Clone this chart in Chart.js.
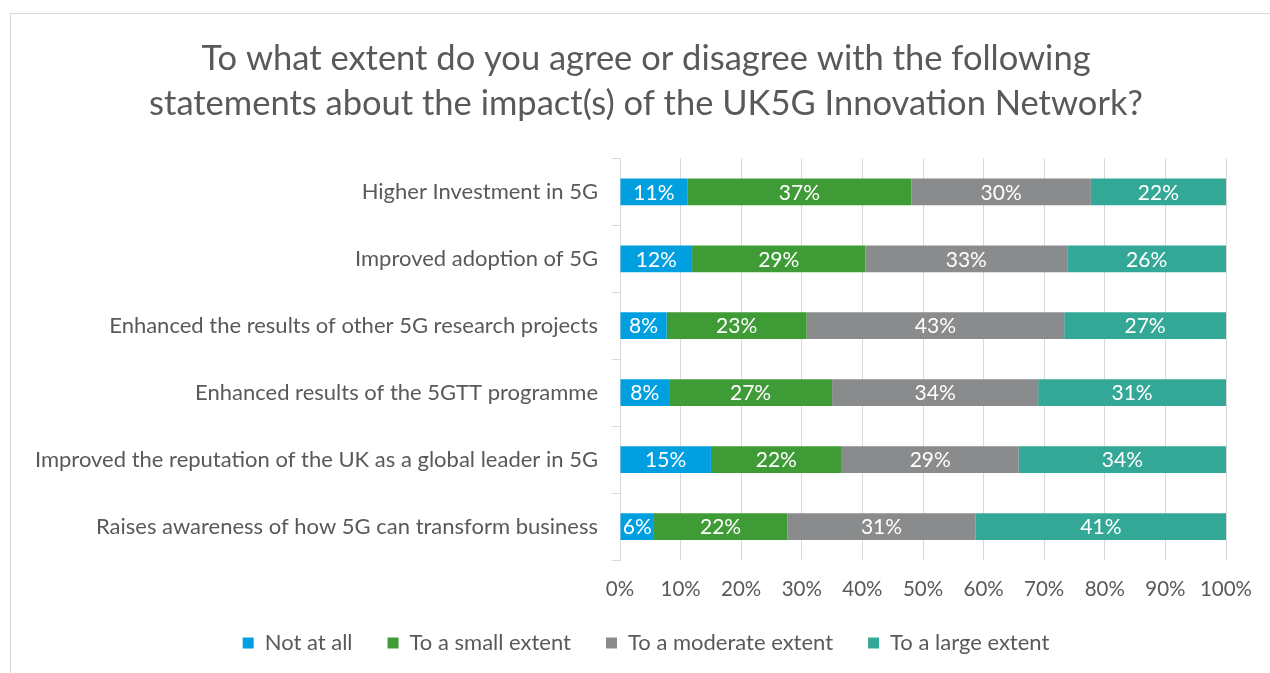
<!DOCTYPE html>
<html>
<head>
<meta charset="utf-8">
<script src="https://cdn.jsdelivr.net/npm/chart.js@4"></script>
<style>
  html, body { margin: 0; padding: 0; background: #fff; overflow: hidden; }
  #wrap { position: relative; width: 1270px; height: 673px; }
  #frame { position: absolute; left: 10px; top: 13px; width: 1300px; height: 700px; border: 1px solid #d9d9d9; box-sizing: border-box; }
  canvas { position: absolute; left: 0; top: 0; }
</style>
</head>
<body>
<div id="wrap">
  <div id="frame"></div>
  <canvas id="chart" width="1270" height="673"></canvas>
</div>
<script>
const categories = [
    'Higher Investment in 5G',
    'Improved adoption of 5G',
    'Enhanced the results of other 5G research projects',
    'Enhanced results of the 5GTT programme',
    'Improved the reputation of the UK as a global leader in 5G',
    'Raises awareness of how 5G can transform business'
];
const seriesNames = ['Not at all', 'To a small extent', 'To a moderate extent', 'To a large extent'];
const notAtAll = [11.1, 11.9, 7.7, 8.1, 15.0, 5.6];
const smallExtent = [37.0, 28.6, 23.1, 26.9, 21.6, 22.0];
const moderateExtent = [29.6, 33.3, 42.5, 34.0, 29.2, 31.1];
const largeExtent = [22.3, 26.2, 26.7, 31.0, 34.2, 41.3];
const xTicks = [0, 10, 20, 30, 40, 50, 60, 70, 80, 90, 100];

const colors = ['#00a0e0', '#3f9b35', '#898b8d', '#34a896'];
const textGrey = '#595959';
const fontFamily = 'Lato, "Open Sans", sans-serif';

// white percentage labels in the middle of each segment
const barLabels = {
    id: 'barLabels',
    afterDatasetsDraw(chart) {
        const ctx = chart.ctx;
        ctx.save();
        ctx.fillStyle = '#ffffff';
        ctx.font = '21px ' + fontFamily;
        ctx.textAlign = 'center';
        ctx.textBaseline = 'middle';
        chart.data.datasets.forEach((ds, i) => {
            chart.getDatasetMeta(i).data.forEach((bar, j) => {
                const cx = (bar.x + bar.base) / 2;
                ctx.fillText(Math.round(ds.data[j]) + '%', cx, bar.y + 1);
            });
        });
        ctx.restore();
    }
};

// title and legend sit a bit right of the canvas centre, like the original
const shiftBlocks = {
    id: 'shiftBlocks',
    afterLayout(chart) {
        if (chart.titleBlock) chart.titleBlock.left += 66;
        if (chart.legend) chart.legend.left += 66;
    }
};

const ctx = document.getElementById('chart').getContext('2d');
new Chart(ctx, {
    type: 'bar',
    data: {
        labels: categories,
        datasets: [notAtAll, smallExtent, moderateExtent, largeExtent].map((d, i) => ({
            label: seriesNames[i],
            data: d,
            backgroundColor: colors[i],
            borderWidth: 0,
            categoryPercentage: 0.4,
            barPercentage: 1.0
        }))
    },
    options: {
        indexAxis: 'y',
        responsive: false,
        animation: false,
        layout: { padding: { left: 0, right: 44, top: 0, bottom: 9 } },
        scales: {
            x: {
                stacked: true,
                min: 0,
                max: 100,
                afterBuildTicks: scale => { scale.ticks = xTicks.map(v => ({ value: v })); },
                afterFit: scale => { scale.height = 37; },
                ticks: {
                    color: textGrey,
                    font: { family: fontFamily, size: 20.5 },
                    padding: 17,
                    callback: v => v + '%'
                },
                grid: { color: '#d9d9d9', lineWidth: 1, drawTicks: false },
                border: { display: false }
            },
            y: {
                stacked: true,
                afterFit: scale => { scale.width = 620; },
                ticks: {
                    color: textGrey,
                    font: { family: fontFamily, size: 22 },
                    padding: 14
                },
                grid: { drawOnChartArea: false, drawTicks: true, tickLength: 8, offset: true, color: '#d9d9d9' },
                border: { display: true, color: '#d9d9d9' }
            }
        },
        plugins: {
            title: {
                display: true,
                text: ['To what extent do you agree or disagree with the following',
                       'statements about the impact(s) of the UK5G Innovation Network?'],
                color: textGrey,
                font: { family: fontFamily, size: 34.5, weight: 'normal', lineHeight: 1.31 },
                padding: { top: 36, bottom: 32 }
            },
            legend: {
                position: 'bottom',
                labels: {
                    color: textGrey,
                    font: { family: fontFamily, size: 22 },
                    boxWidth: 11,
                    boxHeight: 11,
                    padding: 35
                }
            },
            tooltip: { enabled: false }
        }
    },
    plugins: [barLabels, shiftBlocks]
});
</script>
</body>
</html>
